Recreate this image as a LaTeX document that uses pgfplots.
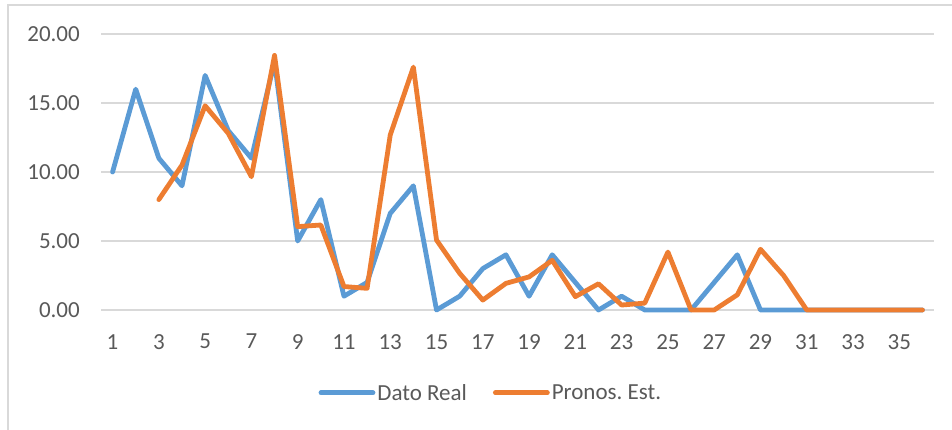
\documentclass[border=0pt]{standalone}
\usepackage{fontspec}
\setmainfont{Carlito}
\usepackage{pgfplots}
\pgfplotsset{compat=1.18}
\definecolor{realblue}{HTML}{5B9BD5}
\definecolor{estorange}{HTML}{ED7D31}
\definecolor{gridgray}{HTML}{D9D9D9}
\definecolor{txtgray}{HTML}{595959}
\frenchspacing

\begin{document}
\begin{tikzpicture}
\useasboundingbox (0pt,0pt) rectangle (952pt,-430pt);
% chart frame (right and bottom edges are cut off in the reference)
\draw[gridgray, line width=1.5pt] (8pt,-430pt) -- (8pt,-5pt) -- (952pt,-5pt);
\begin{axis}[
    at={(101pt,-310pt)}, anchor=south west,
    scale only axis, width=833pt, height=276pt,
    xmin=0.5, xmax=36.5, ymin=0, ymax=20,
    xtick={1,3,...,35},
    ytick={0,5,10,15,20},
    axis line style={draw=none},
    major tick length=0pt,
    ymajorgrids,
    grid style={gridgray, line width=1.5pt},
    clip=false,
    font=\fontsize{23}{27}\selectfont,
    /pgf/number format/assume math mode=true,
    yticklabel style={color=txtgray, anchor=east, inner sep=0pt, xshift=-21pt,
        /pgf/number format/.cd, fixed, fixed zerofill, precision=2},
    xticklabel style={color=txtgray, anchor=north, inner sep=0pt, yshift=-24pt},
    legend style={at={(0.468,-0.30)}, anchor=center, draw=none, fill=none,
        legend columns=2, text=txtgray, font=\fontsize{23}{27}\selectfont,
        /tikz/every even column/.append style={column sep=24pt},
        legend cell align=left},
    legend image code/.code={\draw[#1, line cap=round] (0pt,0pt) -- (52pt,0pt);},
]
\addplot[realblue, line width=4.8pt, line join=round, line cap=round] coordinates {
    (1,10) (2,16) (3,11) (4,9) (5,17) (6,13) (7,11) (8,18) (9,5) (10,8)
    (11,1) (12,2) (13,7) (14,9) (15,0) (16,1) (17,3) (18,4) (19,1) (20,4)
    (21,2) (22,0) (23,1) (24,0) (25,0) (26,0) (27,2) (28,4) (29,0) (30,0)
    (31,0) (32,0) (33,0) (34,0) (35,0) (36,0)
};
\addlegendentry{Dato Real}
\addplot[estorange, line width=4.8pt, line join=round, line cap=round] coordinates {
    (3,8) (4,10.5) (5,14.8) (6,12.8) (7,9.66) (8,18.45) (9,6.04) (10,6.16)
    (11,1.7) (12,1.57) (13,12.68) (14,17.6) (15,5.07) (16,2.66) (17,0.72)
    (18,1.93) (19,2.4) (20,3.6) (21,0.97) (22,1.9) (23,0.36) (24,0.5)
    (25,4.2) (26,0) (27,0) (28,1.1) (29,4.4) (30,2.5) (31,0) (32,0)
    (33,0) (34,0) (35,0) (36,0)
};
\addlegendentry{Pronos. Est.}
\end{axis}
\end{tikzpicture}
\end{document}
